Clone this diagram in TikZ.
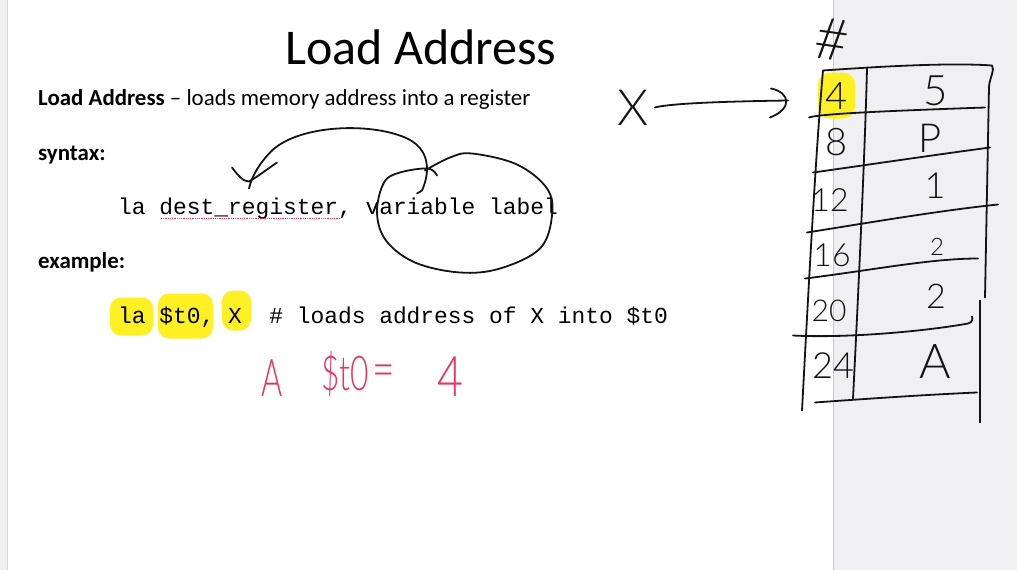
\documentclass[tikz,border=0pt]{standalone}
\usepackage{fontspec}
\setmainfont{Carlito}
\newfontfamily\codefont{Liberation Mono}
\IfFontExistsTF{Lato Light}{\newfontfamily\handfont{Lato Light}}{\newfontfamily\handfont{Lato}}
\definecolor{panelgray}{RGB}{240,240,242}
\definecolor{edgegray}{RGB}{215,215,218}
\definecolor{splitgray}{RGB}{200,200,204}
\definecolor{marker}{RGB}{255,240,35}
\definecolor{ink}{RGB}{20,20,20}
\definecolor{redink}{RGB}{232,52,98}
\tikzset{
  pen/.style={draw=ink, line width=1.8pt, line cap=round, line join=round},
  slidetext/.style={inner sep=0pt, anchor=base west, font=\fontsize{22.9}{27}\selectfont},
  codetext/.style={inner sep=0pt, anchor=base west, font=\codefont\fontsize{22.9}{26}\selectfont},
  hand/.style={inner sep=0pt, text=ink, font=\handfont\fontsize{#1}{#1}\selectfont},
  redhand/.style={inner sep=0pt, text=redink, font=\handfont\fontsize{#1}{#1}\selectfont},
  highlight/.style={fill=marker, rounded corners=11pt}
}
\begin{document}
\begin{tikzpicture}[x=1pt,y=-1pt]
% page background, slide area and its edges
\fill[panelgray] (0,0) rectangle (1017,569);
\fill[white] (8,0) rectangle (833,569);
\draw[edgegray, line width=1pt] (7.5,0) -- (7.5,569);
\draw[splitgray, line width=1pt] (833.5,0) -- (833.5,569);
\useasboundingbox (0,0) rectangle (1017,569);

% slide text
\node[inner sep=0pt, anchor=base, font=\fontsize{50}{60}\selectfont] (title) at (421,64) {Load Address};
\node[slidetext] (def) at (38,105) {\textbf{Load Address} \textendash{} loads memory address into a register};
\node[slidetext] (syntax) at (38,160) {\textbf{syntax:}};
\node[slidetext] (example) at (38,268) {\textbf{example:}};

% marker highlights behind the example operands
\fill[highlight] (110,297) rectangle (153,335);
\fill[highlight] (158,293) rectangle (213,338);
\fill[highlight] (222,290) rectangle (251,330);

% code lines
\node[codetext] (syn) at (118,214) {la dest\_register, variable label};
\draw[redink, line width=0.8pt, densely dotted] (161,218) -- (341,218);
\node[codetext] (ex) at (118,323) {la \$t0, X~~\# loads address of X into \$t0};

% arrow from the label back to the destination register
\coordinate (arrowfoot) at (249,188);
\coordinate (arrowstart) at (422,190);
\draw[pen] (417,193) -- (arrowstart) .. controls (430,172) and (431,148) .. (405,137)
  .. controls (370,122) and (300,124) .. (272,150) .. controls (260,162) and (252,175) .. (arrowfoot);
\draw[pen] (232,167) .. controls (238,175) and (243,181) .. (249,181) .. controls (258,176) and (268,168) .. (277,162);

% loop round the variable label
\draw[pen] plot[smooth, tension=0.6] coordinates {(425,170) (450,157) (472,153) (517,164) (547,188) (552,215) (540,248) (500,268) (460,272) (415,262) (386,240) (377,212) (384,182) (400,172) (428,168) (437,175)};

% handwritten result
\node[redhand=52, transform shape, xscale=0.62] (ra) at (272,378) {A};
\node[redhand=48, transform shape, xscale=0.66] (rreg) at (345,374) {\$t0};
\node[redhand=52, transform shape, xscale=0.75] (req) at (384,376) {=};
\node[redhand=56, transform shape, xscale=0.8] (rval) at (450,376) {4};

% memory table
\fill[marker, rounded corners=12pt] (818,72) rectangle (855,118);
\node[hand=58, rotate=-8] (hash) at (832,39) {\#};
\draw[pen] (823,70) .. controls (880,66) and (950,62) .. (992,65) .. controls (995,70) and (990,76) .. (989,86) -- (985,297);
\draw[pen] (980,300) -- (980,422);
\draw[pen] (823,70) .. controls (816,150) and (810,260) .. (802,410);
\draw[pen] (867,68) .. controls (865,150) and (858,300) .. (853,398);
\draw[pen] (809,117) .. controls (820,113) and (900,110) .. (985,107);
\draw[pen] (813,172) .. controls (870,164) and (930,155) .. (990,147);
\draw[pen] (807,232) .. controls (870,222) and (940,210) .. (998,204);
\draw[pen] (805,278) .. controls (870,270) and (930,258) .. (978,258);
\draw[pen] (793,335) .. controls (850,338) and (930,330) .. (968,323) .. controls (972,322) and (973,319) .. (972,316);
\draw[pen] (815,402) .. controls (870,398) and (930,394) .. (977,392);

\node[hand=38] (a4) at (837,96) {4};
\node[hand=42] (v4) at (936,90) {5};
\node[hand=38] (a8) at (837,142) {8};
\node[hand=40] (v8) at (930,138) {P};
\node[hand=32] (a12) at (830,200) {12};
\node[hand=36] (v12) at (935,185) {1};
\node[hand=32] (a16) at (832,255) {16};
\node[hand=24] (v16) at (937,246) {2};
\node[hand=30] (a20) at (829,310) {20};
\node[hand=34] (v20) at (936,296) {2};
\node[hand=36] (a24) at (833,365) {24};
\node[hand=48] (v24) at (935,361) {A};

% label X pointing at the first cell
\node[hand=50] (xlab) at (633,107) {X};
\coordinate (xtip) at (788,100);
\draw[pen] (xlab.east) ++(6,0) .. controls (670,103) and (720,101) .. (xtip);
\draw[pen] (771,88) .. controls (790,92) and (793,108) .. (770,117);
\end{tikzpicture}
\end{document}
